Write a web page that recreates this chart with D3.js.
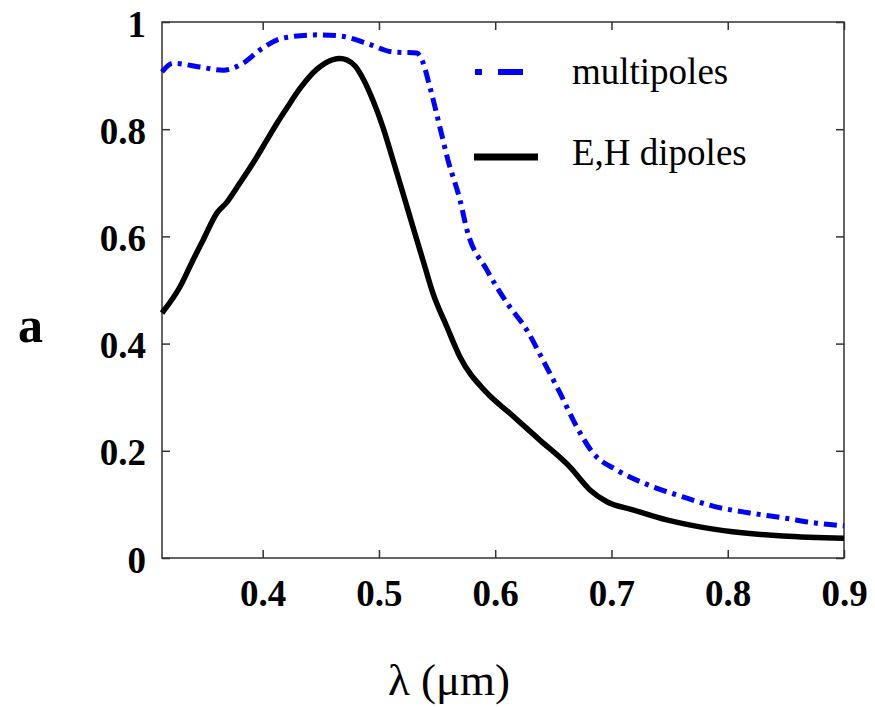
<!DOCTYPE html>
<html>
<head>
<meta charset="utf-8">
<script src="https://cdn.jsdelivr.net/npm/d3@7.9.0/dist/d3.min.js"></script>
<style>
  body { margin: 0; background: #fff; }
  svg { display: block; }
</style>
</head>
<body>
<svg width="875" height="707"></svg>
<script>
// E,H dipoles (black solid)
const dipoleX = [0.3134, 0.3289, 0.3401, 0.3487, 0.3607, 0.3693, 0.3805, 0.3917, 0.4037, 0.4123,
  0.4209, 0.4321, 0.4467, 0.4605, 0.4665, 0.4725, 0.4795, 0.4857, 0.4948, 0.5034, 0.512, 0.5206,
  0.5292, 0.5378, 0.5464, 0.5585, 0.5697, 0.5929, 0.6126, 0.6384, 0.6642, 0.6815, 0.696, 0.7184,
  0.7476, 0.776, 0.8044, 0.8474, 0.9];
const dipoleY = [0.457, 0.506, 0.556, 0.593, 0.644, 0.664, 0.70, 0.737, 0.78, 0.811,
  0.84, 0.876, 0.912, 0.93, 0.932, 0.929, 0.918, 0.897, 0.854, 0.804, 0.743, 0.681,
  0.618, 0.556, 0.494, 0.431, 0.375, 0.308, 0.27, 0.22, 0.17, 0.127, 0.105, 0.09,
  0.071, 0.058, 0.049, 0.041, 0.037];

// multipoles (blue dash-dot)
const multiX = [0.3134, 0.3229, 0.3461, 0.3659, 0.3831, 0.3977, 0.4174, 0.4467, 0.4665, 0.4897,
  0.512, 0.5327, 0.537, 0.5438, 0.5524, 0.5593, 0.5697, 0.5757, 0.5929, 0.6101, 0.6273,
  0.6411, 0.6557, 0.6703, 0.6841, 0.7047, 0.7331, 0.7615, 0.7907, 0.819, 0.8474, 0.8766, 0.9];
const multiY = [0.907, 0.923, 0.916, 0.91, 0.923, 0.948, 0.97, 0.976, 0.974, 0.96,
  0.944, 0.942, 0.929, 0.879, 0.804, 0.743, 0.668, 0.612, 0.537, 0.476, 0.425,
  0.369, 0.308, 0.244, 0.196, 0.164, 0.135, 0.114, 0.095, 0.084, 0.075, 0.065, 0.06];

const xTicks = [0.4, 0.5, 0.6, 0.7, 0.8, 0.9];
const yTicks = [0, 0.2, 0.4, 0.6, 0.8, 1];
const legendLabels = ["multipoles", "E,H dipoles"];

const svg = d3.select('svg');
const m = { left: 162, right: 844, top: 22, bottom: 558 };

const x = d3.scaleLinear().domain([0.3134, 0.9]).range([m.left, m.right]);
const y = d3.scaleLinear().domain([0, 1]).range([m.bottom, m.top]);

const fmt = d => d === 0 ? '0' : d === 1 ? '1' : d3.format('.1f')(d);

// ticks on all four sides, pointing inward
const axisColor = '#333';
const tl = 8;
const bottomAxis = svg.append('g').attr('transform', `translate(0,${m.bottom})`)
  .call(d3.axisBottom(x).tickValues(xTicks).tickSize(-tl).tickFormat(fmt).tickPadding(22));
const topAxis = svg.append('g').attr('transform', `translate(0,${m.top})`)
  .call(d3.axisTop(x).tickValues(xTicks).tickSize(-tl).tickFormat(''));
const leftAxis = svg.append('g').attr('transform', `translate(${m.left},0)`)
  .call(d3.axisLeft(y).tickValues(yTicks).tickSize(-tl).tickFormat(fmt).tickPadding(16));
const rightAxis = svg.append('g').attr('transform', `translate(${m.right},0)`)
  .call(d3.axisRight(y).tickValues(yTicks).tickSize(-tl).tickFormat(''));

[bottomAxis, topAxis, leftAxis, rightAxis].forEach(g => {
  g.select('.domain').remove();
  g.selectAll('line').attr('stroke', axisColor).attr('stroke-width', 1.5);
  g.selectAll('text')
    .attr('fill', '#000')
    .style('font-family', '"Liberation Serif", "Times New Roman", serif')
    .style('font-weight', 'bold')
    .style('font-size', '37px');
});
bottomAxis.selectAll('text').attr('dy', '0.71em');
leftAxis.selectAll('text').attr('dy', '0.38em');

svg.append('rect')
  .attr('x', m.left).attr('y', m.top)
  .attr('width', m.right - m.left).attr('height', m.bottom - m.top)
  .attr('fill', 'none').attr('stroke', axisColor).attr('stroke-width', 1.5);

const line = d3.line().x(d => x(d[0])).y(d => y(d[1])).curve(d3.curveMonotoneX);

const multi = multiX.map((v, i) => [v, multiY[i]]);
const dipole = dipoleX.map((v, i) => [v, dipoleY[i]]);

svg.append('path')
  .attr('d', line(multi))
  .attr('fill', 'none')
  .attr('stroke', '#0000ff')
  .attr('stroke-width', 5)
  .attr('stroke-dasharray', '13,6,4,6');

svg.append('path')
  .attr('d', line(dipole))
  .attr('fill', 'none')
  .attr('stroke', '#000')
  .attr('stroke-width', 5.5);

// legend
svg.append('line')
  .attr('x1', 475).attr('x2', 523).attr('y1', 72).attr('y2', 72)
  .attr('stroke', '#0000ff').attr('stroke-width', 6)
  .attr('stroke-dasharray', '7,16,25,40');
svg.append('line')
  .attr('x1', 474).attr('x2', 538).attr('y1', 157).attr('y2', 157)
  .attr('stroke', '#000').attr('stroke-width', 7);

svg.selectAll('.leg')
  .data(legendLabels)
  .enter().append('text')
  .attr('x', 572)
  .attr('y', (d, i) => 84 + i * 81)
  .style('font-family', '"Liberation Serif", "Times New Roman", serif')
  .style('font-size', '37px')
  .text(d => d);

// axis titles
svg.append('text')
  .attr('x', 449).attr('y', 695)
  .attr('text-anchor', 'middle')
  .style('font-family', '"Liberation Serif", "Times New Roman", serif')
  .style('font-size', '45px')
  .text('λ (μm)');

svg.append('text')
  .attr('x', 18).attr('y', 342)
  .style('font-family', '"Liberation Serif", "Times New Roman", serif')
  .style('font-weight', 'bold')
  .style('font-size', '50px')
  .text('a');
</script>
</body>
</html>
